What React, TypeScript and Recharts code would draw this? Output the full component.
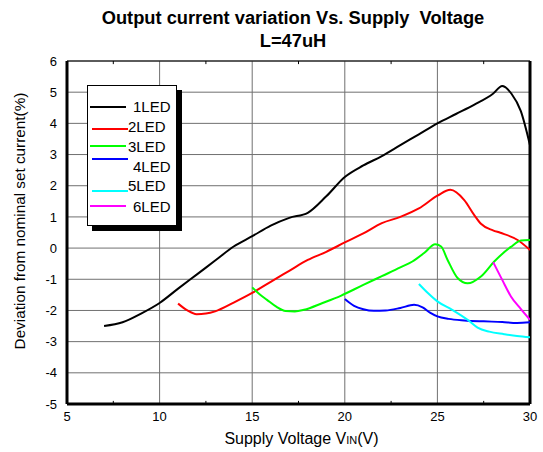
import { LineChart, Line, XAxis, YAxis, CartesianGrid, ReferenceLine } from "recharts";

// supply voltage (V) and deviation (%) for each LED count
const led1V = [7, 8, 9, 10, 11, 12, 13, 14, 15, 16, 17, 18, 19, 20, 21, 22, 23, 24, 25, 26, 27, 28, 28.5, 29, 29.5, 30];
const led1 = [-2.5, -2.38, -2.1, -1.76, -1.3, -0.85, -0.4, 0.05, 0.38, 0.72, 0.97, 1.13, 1.66, 2.28, 2.65, 2.95, 3.3, 3.65, 4.0, 4.3, 4.6, 4.95, 5.2, 4.95, 4.4, 3.3];

const led2V = [11, 11.5, 12, 12.5, 13, 14, 15, 16, 17, 18, 19, 20, 21, 22, 23, 24, 25, 25.7, 26.45, 27, 27.35, 28, 28.4, 29.33, 30];
const led2 = [-1.78, -2.0, -2.12, -2.1, -2.03, -1.75, -1.44, -1.08, -0.73, -0.38, -0.12, 0.18, 0.47, 0.8, 1.0, 1.27, 1.68, 1.87, 1.54, 1.05, 0.78, 0.57, 0.49, 0.26, -0.06];

const led3V = [15, 15.4, 15.8, 16.3, 16.8, 17.3, 17.8, 18.8, 19.78, 21, 22, 23, 23.65, 24.3, 24.88, 25.2, 25.55, 26.09, 26.63, 27.35, 28.07, 28.97, 29.51, 30];
const led3 = [-1.26, -1.48, -1.66, -1.88, -2.02, -2.03, -1.98, -1.76, -1.53, -1.18, -0.9, -0.62, -0.43, -0.15, 0.12, 0.05, -0.38, -0.96, -1.13, -0.91, -0.43, 0.04, 0.24, 0.26];

const led4V = [20, 20.5, 21, 21.57, 22.2, 23, 23.74, 24.2, 24.6, 25, 25.6, 26.45, 27.5, 28.5, 29.3, 30];
const led4 = [-1.63, -1.85, -1.96, -2.01, -2.0, -1.92, -1.82, -1.9, -2.07, -2.19, -2.27, -2.32, -2.35, -2.37, -2.4, -2.38];

const led5V = [24, 24.5, 25, 25.8, 26.63, 27.17, 27.8, 28.6, 29.3, 30];
const led5 = [-1.15, -1.45, -1.71, -1.98, -2.3, -2.55, -2.68, -2.76, -2.82, -2.86];

const led6V = [28.01, 28.5, 28.97, 29.5, 30];
const led6 = [-0.45, -1.02, -1.55, -1.95, -2.3];

const xTicks = [5, 10, 15, 20, 25, 30];
const xMinor = [7.5, 12.5, 17.5, 22.5, 27.5];
const yTicks = [-5, -4, -3, -2, -1, 0, 1, 2, 3, 4, 5, 6];

const series = [
  { name: "1LED", color: "#000000", xs: led1V, ys: led1 },
  { name: "2LED", color: "#ff0000", xs: led2V, ys: led2 },
  { name: "3LED", color: "#00ff00", xs: led3V, ys: led3 },
  { name: "4LED", color: "#0000ff", xs: led4V, ys: led4 },
  { name: "5LED", color: "#00ffff", xs: led5V, ys: led5 },
  { name: "6LED", color: "#ff00ff", xs: led6V, ys: led6 },
];

// legend sample line (y, x0) and label (y, x) inside the page
const legendLayout = [
  { lineY: 107, lineX: 90, textY: 107, textX: 133 },
  { lineY: 129, lineX: 92, textY: 127, textX: 128 },
  { lineY: 146, lineX: 90, textY: 147, textX: 128 },
  { lineY: 159, lineX: 92, textY: 167, textX: 133 },
  { lineY: 191, lineX: 92, textY: 186, textX: 128 },
  { lineY: 206, lineX: 90, textY: 207, textX: 133 },
];

const font = "'Liberation Sans', Arial, sans-serif";

const App = () => {
  return (
    <div style={{ position: "absolute", left: 0, top: 0, width: 543, height: 452, background: "#fff", fontFamily: font, color: "#000" }}>
      <LineChart width={543} height={452} margin={{ top: 61, right: 13, bottom: 18, left: 0 }}>
        <CartesianGrid stroke="#707070" />
        <XAxis
          dataKey="x"
          type="number"
          domain={[5, 30]}
          ticks={xTicks}
          height={30}
          allowDataOverflow
          tickLine={false}
          axisLine={{ stroke: "#000", strokeWidth: 3 }}
          tick={{ fill: "#000", fontSize: 13, fontFamily: font }}
        />
        <YAxis
          type="number"
          domain={[-5, 6]}
          ticks={yTicks}
          width={67}
          allowDataOverflow
          tickLine={false}
          tickMargin={4}
          axisLine={{ stroke: "#000", strokeWidth: 3 }}
          tick={{ fill: "#000", fontSize: 13, fontFamily: font }}
        />
        <ReferenceLine x={30} stroke="#000" strokeWidth={3} />
        <ReferenceLine y={6} stroke="#000" strokeWidth={1} />
        {xMinor.map((m) => (
          <ReferenceLine key={`b${m}`} segment={[{ x: m, y: -5 }, { x: m, y: -4.9 }]} stroke="#000" />
        ))}
        {xMinor.map((m) => (
          <ReferenceLine key={`t${m}`} segment={[{ x: m, y: 6 }, { x: m, y: 5.9 }]} stroke="#000" />
        ))}
        {series.map((s) => (
          <Line
            key={s.name}
            data={s.xs.map((x, i) => ({ x, y: s.ys[i] }))}
            dataKey="y"
            name={s.name}
            type="monotone"
            stroke={s.color}
            strokeWidth={2}
            dot={false}
            isAnimationActive={false}
          />
        ))}
      </LineChart>

      <div style={{ position: "absolute", left: 0, width: 586, top: 6, textAlign: "center", fontWeight: "bold", fontSize: 18.3, whiteSpace: "pre", lineHeight: "23px" }}>
        {"Output current variation Vs. Supply  Voltage\nL=47uH"}
      </div>

      <div style={{ position: "absolute", left: 20, top: 221, width: 0, height: 0 }}>
        <div style={{ position: "absolute", transform: "translate(-50%, -50%) rotate(-90deg)", whiteSpace: "nowrap", fontSize: 15.3 }}>
          Deviation from nominal set current(%)
        </div>
      </div>

      <div style={{ position: "absolute", left: 0, width: 603, top: 430, textAlign: "center", fontSize: 16, whiteSpace: "nowrap" }}>
        Supply Voltage V<span style={{ fontSize: 11 }}>IN</span>(V)
      </div>

      <div style={{ position: "absolute", left: 87, top: 85, width: 88, height: 139, background: "#fff", border: "1px solid #000", boxShadow: "5px 5px 0 #000" }} />
      {series.map((s, i) => {
        const l = legendLayout[i];
        return (
          <div key={s.name}>
            <div style={{ position: "absolute", left: l.lineX, top: l.lineY - 1, width: 36, height: 2, background: s.color }} />
            <div style={{ position: "absolute", left: l.textX, top: l.textY - 9, fontSize: 15, lineHeight: "18px" }}>{s.name}</div>
          </div>
        );
      })}
    </div>
  );
};

export default App;
